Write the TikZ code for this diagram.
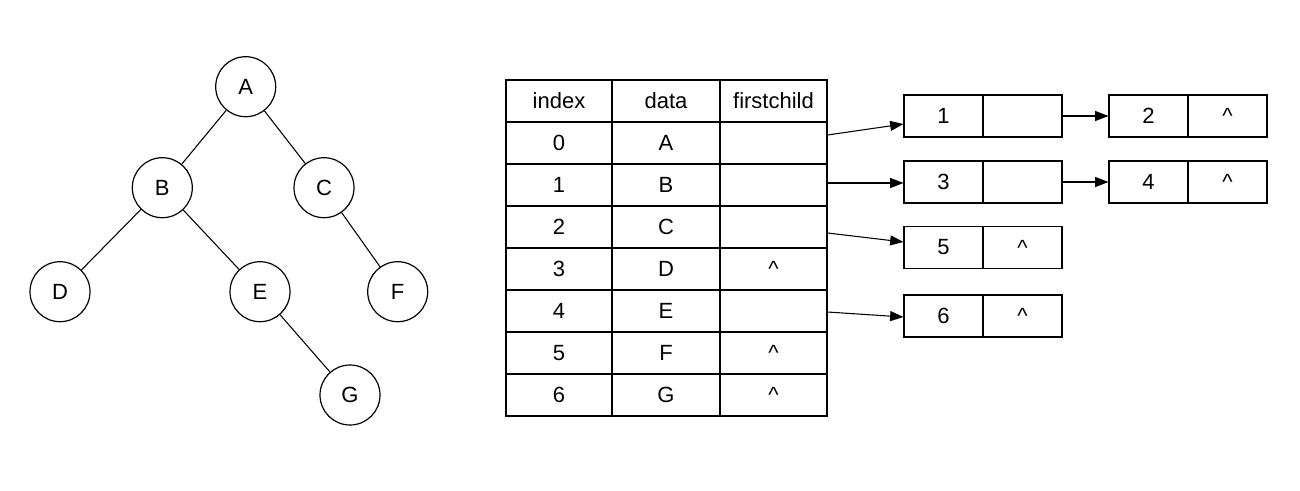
\documentclass[tikz,border=0pt]{standalone}
\usepackage{fontspec}
\setmainfont{Liberation Sans}
\usetikzlibrary{arrows.meta,calc}
\begin{document}
\begin{tikzpicture}[x=0.75pt,y=-0.75pt,
  every node/.style={font=\fontsize{16.5}{19}\selectfont},
  tnode/.style={draw,circle,line width=0.9pt,minimum size=45pt,inner sep=0pt},
  edge/.style={line width=0.8pt},
  cell/.style={draw,line width=0.8pt,rectangle,inner sep=0pt,minimum height=31.5pt},
  cA/.style={cell,minimum width=79.5pt},
  cB/.style={cell,minimum width=81pt},
  cC/.style={cell,minimum width=80.25pt},
  lcell/.style={cell,minimum width=59.25pt},
  arr/.style={line width=0.8pt,-{Triangle[length=10pt,width=7.5pt]}}]
\useasboundingbox (0,0) rectangle (1300,490);
% tree
\node[tnode] (A) at (245.7,86.7) {A};
\node[tnode] (B) at (162.3,187.7) {B};
\node[tnode] (C) at (324,187.7) {C};
\node[tnode] (D) at (60,291.7) {D};
\node[tnode] (E) at (260,291.7) {E};
\node[tnode] (F) at (397.7,291.7) {F};
\node[tnode] (G) at (350,395) {G};
\draw[edge] (A) -- (B);
\draw[edge] (A) -- (C);
\draw[edge] (B) -- (D);
\draw[edge] (B) -- (E);
\draw[edge] (C) -- (F);
\draw[edge] (E) -- (G);
% table
\node[cA] (hi) at (559,101) {index};
\node[cB] (hd) at (666,101) {data};
\node[cC] (hf) at (773.5,101) {firstchild};
\foreach \i/\d/\f in {0/A/,1/B/,2/C/,3/D/\textasciicircum,4/E/,5/F/\textasciicircum,6/G/\textasciicircum}{
  \pgfmathsetmacro{\yy}{143+42*\i}
  \node[cA] (i\i) at (559,\yy) {\i};
  \node[cB] (d\i) at (666,\yy) {\d};
  \node[cC] (f\i) at (773.5,\yy) {\f};
}
% linked lists
\node[lcell] (n1a) at (943.5,116) {1};
\node[lcell] (n1b) at (1022.5,116) {};
\node[lcell] (n2a) at (1148.5,116) {2};
\node[lcell] (n2b) at (1227.5,116) {\textasciicircum};
\node[lcell] (n3a) at (943.5,182) {3};
\node[lcell] (n3b) at (1022.5,182) {};
\node[lcell] (n4a) at (1148.5,182) {4};
\node[lcell] (n4b) at (1227.5,182) {\textasciicircum};
\node[lcell] (n5a) at (943.5,247.5) {5};
\node[lcell] (n5b) at (1022.5,247.5) {\textasciicircum};
\node[lcell] (n6a) at (943.5,316) {6};
\node[lcell] (n6b) at (1022.5,316) {\textasciicircum};
\draw[arr] ($(f0.east)+(0,-8)$) -- ($(n1a.west)+(0,8)$);
\draw[arr] ($(f1.east)+(0,-2)$) -- ($(n3a.west)+(0,1)$);
\draw[arr] ($(f2.east)+(0,6)$) -- ($(n5a.west)+(0,-5.5)$);
\draw[arr] ($(f4.east)+(0,1)$) -- ($(n6a.west)+(0,1)$);
\draw[arr] (n1b.east) -- (n2a.west);
\draw[arr] (n3b.east) -- (n4a.west);
\end{tikzpicture}
\end{document}
